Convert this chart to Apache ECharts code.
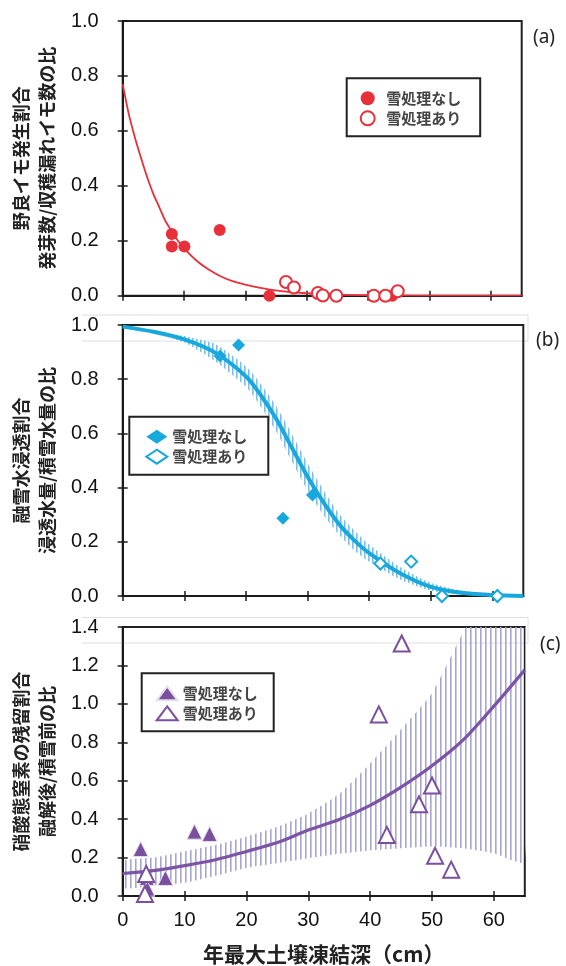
<!DOCTYPE html>
<html><head><meta charset="utf-8">
<script src="https://cdn.jsdelivr.net/npm/echarts@6/dist/echarts.min.js"></script>
<style>html,body{margin:0;padding:0;background:#fff}#c{width:566px;height:966px}</style>
</head><body><div id="c"></div>
<script>
// ---------- Panel (a) 野良イモ ----------
const aFitX = [0,1,2,3,4,5,6,7,8,9,10,12,14,16,18,20,22,24,27,30,35,40,45,50,65];
const aFitY = [0.77,0.66,0.575,0.5,0.43,0.37,0.32,0.27,0.235,0.2,0.172,0.128,0.095,0.07,0.052,0.04,0.03,0.022,0.014,0.009,0.004,0.002,0.001,0,0];
const aNoX  = [8.0,8.0,10.05,15.8,23.9,43.9];
const aNoY  = [0.225,0.179,0.179,0.239,0.0,0.0];
const aYesX = [26.6,27.9,31.8,32.6,34.8,40.9,42.8,44.8];
const aYesY = [0.05,0.03,0.01,0.001,0.0,0.0,0.0,0.016];

// ---------- Panel (b) 融雪水浸透 ----------
const bFitX = [0,5,10,15,20,22.5,25,27.5,30,32.5,35,37.5,40,45,50,55,60,65];
const bFitY = [0.994,0.975,0.947,0.898,0.81,0.738,0.65,0.545,0.44,0.348,0.268,0.207,0.158,0.084,0.034,0.012,0.004,0.0];
const bBandLo = [0.992,0.970,0.935,0.866,0.772,0.696,0.603,0.494,0.390,0.301,0.229,0.170,0.126,0.061,0.019,0.004,0.000,0.0];
const bBandHi = [0.996,0.980,0.959,0.930,0.848,0.780,0.697,0.596,0.490,0.395,0.307,0.244,0.190,0.107,0.049,0.020,0.008,0.002];
const bNoX  = [15.8,18.8,26.0,30.8];
const bNoY  = [0.886,0.926,0.287,0.373];
const bYesX = [41.8,46.8,51.8,60.8];
const bYesY = [0.12,0.127,0.0,0.0];

// ---------- Panel (c) 硝酸態窒素 ----------
const cFitX = [0,5,10,15,20,25,30,35,40,45,50,55,60,65];
const cFitY = [0.117,0.132,0.158,0.189,0.232,0.278,0.343,0.398,0.472,0.567,0.678,0.811,0.988,1.177];
const cBandLo = [0.043,0.055,0.069,0.105,0.146,0.172,0.197,0.22,0.237,0.249,0.258,0.249,0.223,0.18];
const cBandHi = [0.18,0.2,0.232,0.265,0.309,0.36,0.43,0.532,0.69,0.868,1.057,1.37,1.65,1.95];
const cNoX  = [2.9,11.6,14.05,6.9,3.9,4.0];
const cNoY  = [0.244,0.335,0.323,0.094,0.094,0.038];
const cYesX = [45.1,41.4,50.0,47.9,42.7,50.5,53.1,3.8,3.6];
const cYesY = [1.314,0.945,0.575,0.477,0.318,0.209,0.137,0.115,0.01];

// ---------- tick labels ----------
const xTicks = [0,10,20,30,40,50,60];
const yTicksA = [0,0.2,0.4,0.6,0.8,1.0];
const yTicksC = [0,0.2,0.4,0.6,0.8,1.0,1.2,1.4];

const NAME_NO = '雪処理なし', NAME_YES = '雪処理あり';
const RED = '#e8303a', BLUE = '#17a8de', PURPLE = '#7a4f9e';

function pairs(xs, ys){ return xs.map((x,i)=>[x, ys[i]]); }
function stripes(color, w, lw){
  const cv = document.createElement('canvas'); cv.width = w; cv.height = 8;
  const ctx = cv.getContext('2d'); ctx.fillStyle = color; ctx.fillRect(0,0,lw,8);
  return cv;
}
function bandSeries(axisIdx, xs, lo, hi, pattern){
  return {
    type:'custom', xAxisIndex:axisIdx, yAxisIndex:axisIdx, clip:true, z:1, silent:true,
    data:[[xs[0], lo[0]]],
    renderItem:function(params, api){
      const top = xs.map((x,i)=>api.coord([x, hi[i]]));
      const bot = xs.map((x,i)=>api.coord([x, lo[i]])).reverse();
      return {type:'polygon', shape:{points:top.concat(bot), smooth:0.2},
              style:{fill:{image:pattern, repeat:'repeat'}}};
    }
  };
}

const numFont = 'Liberation Sans, Arial, sans-serif';
const jpFont = 'Noto Sans CJK JP, sans-serif';
const axisCol = '#1a1a1a';

function xAxisPair(gi, labels){
  const main = {
    type:'value', gridIndex:gi, min:0, max:65, interval:10, position:'bottom',
    axisLine:{show:true, onZero:false, lineStyle:{color:axisCol, width:2}},
    axisTick:{show:true, inside:false, length:5, customValues:xTicks, lineStyle:{color:axisCol, width:1.5}},
    axisLabel:{show:labels, customValues:xTicks, margin:14, fontSize:20, color:'#111', fontFamily:numFont},
    splitLine:{show:false}
  };
  if (labels){
    main.name = '年最大土壌凍結深（cm）';
    main.nameLocation = 'middle';
    main.nameGap = 48;
    main.nameTextStyle = {fontSize:21, fontWeight:'bold', color:'#222', fontFamily:jpFont};
  }
  const dup = {
    type:'value', gridIndex:gi, min:0, max:65, interval:10, position:'bottom',
    axisLine:{show:false},
    axisTick:{show:true, inside:true, length:5, customValues:xTicks, lineStyle:{color:axisCol, width:1.5}},
    axisLabel:{show:false}, splitLine:{show:false}
  };
  return [main, dup];
}
function yAxisPair(gi, max, ticks, name){
  const main = {
    type:'value', gridIndex:gi, min:0, max:max, interval:0.2, position:'left',
    axisLine:{show:true, onZero:false, lineStyle:{color:axisCol, width:2}},
    axisTick:{show:true, inside:false, length:5, customValues:ticks, lineStyle:{color:axisCol, width:1.5}},
    axisLabel:{show:true, customValues:ticks, margin:24, fontSize:20, color:'#111', fontFamily:numFont,
      formatter:v=>v.toFixed(1)},
    splitLine:{show:false},
    name:name, nameLocation:'middle', nameRotate:90, nameGap:57,
    nameTextStyle:{fontSize:18, fontWeight:'bold', color:'#222', lineHeight:26, fontFamily:jpFont}
  };
  const dup = {
    type:'value', gridIndex:gi, min:0, max:max, interval:0.2, position:'left',
    axisLine:{show:false},
    axisTick:{show:true, inside:true, length:5, customValues:ticks, lineStyle:{color:axisCol, width:1.5}},
    axisLabel:{show:false}, splitLine:{show:false}
  };
  return [main, dup];
}

function legendOf(suffix, left, top, pad, itemW, iconNo, styleNo, iconYes, styleYes){
  return {
    orient:'vertical', left:left, top:top, padding:pad,
    itemWidth:itemW, itemHeight:14, itemGap:4,
    backgroundColor:'#fff', borderColor:'#222', borderWidth:2, borderRadius:0,
    selectedMode:false,
    formatter: n => n.replace(/\u200b/g,''),
    textStyle:{fontSize:15, color:'#444', fontWeight:'bold', fontFamily:jpFont, lineHeight:16},
    data:[
      {name:NAME_NO+suffix, icon:iconNo, itemStyle:styleNo},
      {name:NAME_YES+suffix, icon:iconYes, itemStyle:styleYes}
    ]
  };
}

const grids = [
  {left:116.7, top:21, width:405, height:274.7},
  {left:118.3, top:325, width:405, height:271},
  {left:119.3, top:627, width:405.5, height:271.3}
].map(g=>Object.assign({show:true, borderColor:'#222', borderWidth:2, backgroundColor:'transparent'}, g));

const xAxes = [...xAxisPair(0,false), ...xAxisPair(1,false), ...xAxisPair(2,true)];
const yAxes = [
  ...yAxisPair(0, 1.0, yTicksA, '野良イモ発生割合\n発芽数/収穫漏れイモ数の比'),
  ...yAxisPair(1, 1.0, yTicksA, '融雪水浸透割合\n浸透水量/積雪水量の比'),
  ...yAxisPair(2, 1.4, yTicksC, '硝酸態窒素の残留割合\n融解後/積雪前の比')
];

const Z1 = '\u200b', Z2 = '\u200b\u200b';

const series = [
  // Panel a
  {type:'line', xAxisIndex:0, yAxisIndex:0, data:pairs(aFitX,aFitY), smooth:0.3, symbol:'none',
   lineStyle:{color:RED, width:1.8}, z:2},
  {type:'scatter', name:NAME_NO, xAxisIndex:0, yAxisIndex:0, data:pairs(aNoX,aNoY), symbol:'circle', symbolSize:12,
   itemStyle:{color:RED, opacity:1}, z:3},
  {type:'scatter', name:NAME_YES, xAxisIndex:0, yAxisIndex:0, data:pairs(aYesX,aYesY), symbol:'circle', symbolSize:12,
   itemStyle:{color:'#fff', borderColor:RED, borderWidth:2, opacity:1}, z:3},
  // Panel b
  bandSeries(2, bFitX, bBandLo, bBandHi, stripes('#7dbfe4',4,1.6)),
  {type:'line', xAxisIndex:2, yAxisIndex:2, data:pairs(bFitX,bFitY), smooth:0.3, symbol:'none',
   lineStyle:{color:BLUE, width:4}, z:2},
  {type:'scatter', name:NAME_NO+Z1, xAxisIndex:2, yAxisIndex:2, data:pairs(bNoX,bNoY), symbol:'diamond', symbolSize:13,
   itemStyle:{color:BLUE, opacity:1}, z:3},
  {type:'scatter', name:NAME_YES+Z1, xAxisIndex:2, yAxisIndex:2, data:pairs(bYesX,bYesY), symbol:'diamond', symbolSize:12,
   itemStyle:{color:'#fff', borderColor:BLUE, borderWidth:2, opacity:1}, z:3},
  // Panel c
  bandSeries(4, cFitX, cBandLo, cBandHi, stripes('#a6a6d2',5,1.6)),
  {type:'line', xAxisIndex:4, yAxisIndex:4, data:pairs(cFitX,cFitY), smooth:0.3, symbol:'none',
   lineStyle:{color:'#7c54a6', width:3.2}, z:2},
  {type:'scatter', name:NAME_NO+Z2, xAxisIndex:4, yAxisIndex:4, data:pairs(cNoX,cNoY), symbol:'triangle', symbolSize:15,
   itemStyle:{color:PURPLE, borderColor:'#e4e0ec', borderWidth:1, opacity:1}, z:3},
  {type:'scatter', name:NAME_YES+Z2, xAxisIndex:4, yAxisIndex:4, data:pairs(cYesX,cYesY), symbol:'triangle', symbolSize:16,
   itemStyle:{color:'#fff', borderColor:PURPLE, borderWidth:2, opacity:1}, z:3}
];

const legends = [
  legendOf('', 346.7, 78.3, [12,19,10,13], 27, 'circle', {color:RED}, 'circle', {color:'#fff', borderColor:RED, borderWidth:2}),
  legendOf(Z1, 129.3, 416.7, [12,21,10,16], 21, 'diamond', {color:BLUE}, 'diamond', {color:'#fff', borderColor:BLUE, borderWidth:2}),
  legendOf(Z2, 141.7, 673.3, [12,16,10,14], 21, 'triangle', {color:PURPLE}, 'triangle', {color:'#fff', borderColor:PURPLE, borderWidth:2})
];

const faint = '#dedede';
const labFont = 'Noto Sans, sans-serif';
const graphic = [
  {type:'text', left:533, top:28, style:{text:'(a)', fontSize:19, fill:'#222', fontFamily:labFont}},
  {type:'text', left:536, top:331, style:{text:'(b)', fontSize:19, fill:'#222', fontFamily:labFont}},
  {type:'text', left:540, top:635, style:{text:'(c)', fontSize:19, fill:'#222', fontFamily:labFont}},
  {type:'line', shape:{x1:82, y1:315, x2:528, y2:315}, style:{stroke:faint, lineWidth:1}, z:-1},
  {type:'line', shape:{x1:82, y1:341, x2:528, y2:341}, style:{stroke:faint, lineWidth:1}, z:-1},
  {type:'line', shape:{x1:528, y1:315, x2:528, y2:341}, style:{stroke:faint, lineWidth:1}, z:-1},
  {type:'line', shape:{x1:82, y1:617.5, x2:528, y2:617.5}, style:{stroke:faint, lineWidth:1}, z:-1},
  {type:'line', shape:{x1:82, y1:643, x2:528, y2:643}, style:{stroke:faint, lineWidth:1}, z:-1},
  {type:'line', shape:{x1:528, y1:617.5, x2:528, y2:643}, style:{stroke:faint, lineWidth:1}, z:-1}
];

const chart = echarts.init(document.getElementById('c'), null, {renderer:'canvas'});
chart.setOption({
  backgroundColor:'#fff',
  animation:false,
  grid:grids,
  xAxis:xAxes,
  yAxis:yAxes,
  legend:legends,
  series:series,
  graphic:graphic
});
</script>
</body></html>
